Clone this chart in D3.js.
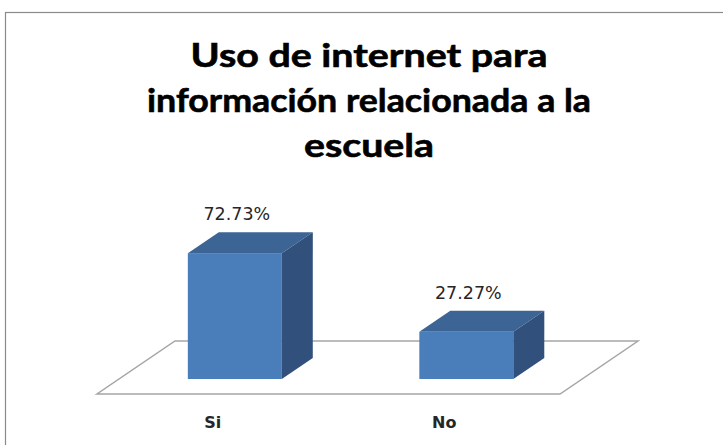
<!DOCTYPE html>
<html>
<head>
<meta charset="utf-8">
<script src="https://cdn.jsdelivr.net/npm/d3@7"></script>
<style>
  body { margin: 0; background: #fff; }
  svg { display: block; }
</style>
</head>
<body>
<div id="chart"></div>
<script>
// données du graphique
const titleLines = ["Uso de internet para", "información relacionada a la", "escuela"];
const categories = ["Si", "No"];
const values = [72.73, 27.27];
const valueLabels = ["72.73%", "27.27%"];

const width = 723, height = 445;

const svg = d3.select("#chart")
  .append("svg")
  .attr("width", width)
  .attr("height", height);

// cadre du graphique (coupé à droite et en bas)
svg.append("rect")
  .attr("x", 5.5)
  .attr("y", 12.5)
  .attr("width", 740)
  .attr("height", 460)
  .attr("fill", "#fff")
  .attr("stroke", "#8a8a8a")
  .attr("stroke-width", 1.2);

// titre sur trois lignes, étiré comme dans l'image
const titleWidths = [357, 444, 130];
svg.append("g")
  .selectAll("text")
  .data(titleLines)
  .enter()
  .append("text")
  .attr("x", 369)
  .attr("y", (d, i) => 67 + i * 45)
  .attr("text-anchor", "middle")
  .attr("font-family", "Lato, 'Open Sans', sans-serif")
  .attr("font-weight", "bold")
  .attr("font-size", 33)
  .attr("fill", "#000")
  .attr("stroke", "#000")
  .attr("stroke-width", 0.6)
  .attr("textLength", (d, i) => titleWidths[i])
  .attr("lengthAdjust", "spacingAndGlyphs")
  .text(d => d);

// plancher en perspective
const floorFront = 394;
const depth = { x: 78, y: -53 };
const x = d3.scaleBand()
  .domain(categories)
  .range([97, 560]);
const y = d3.scaleLinear()
  .domain([0, 80])
  .range([0, 138.4]);

const floorPts = [
  [x.range()[0], floorFront],
  [x.range()[1], floorFront],
  [x.range()[1] + depth.x, floorFront + depth.y],
  [x.range()[0] + depth.x, floorFront + depth.y]
];
svg.append("polygon")
  .attr("points", floorPts.map(p => p.join(",")).join(" "))
  .attr("fill", "#fff")
  .attr("stroke", "#a6a6a6")
  .attr("stroke-width", 1.5);

// barres 3D
const t0 = 0.283, t1 = 0.68;
const barW = x.bandwidth() * 0.406;
const ddx = (t1 - t0) * depth.x, ddy = (t1 - t0) * depth.y;

const bars = svg.append("g")
  .selectAll("g")
  .data(categories.map((c, i) => ({ cat: c, val: values[i], lab: valueLabels[i] })))
  .enter()
  .append("g");

function geom(d) {
  const cx = x(d.cat) + x.bandwidth() / 2;
  const x0 = cx - barW / 2 + t0 * depth.x;
  const yb = floorFront + t0 * depth.y;
  const h = y(d.val);
  return { x0, yb, h, yt: yb - h };
}

bars.append("rect")
  .attr("x", d => geom(d).x0)
  .attr("y", d => geom(d).yt)
  .attr("width", barW)
  .attr("height", d => geom(d).h)
  .attr("fill", "#4a7ebb");

bars.append("polygon")
  .attr("points", d => {
    const g = geom(d);
    return [[g.x0, g.yt], [g.x0 + ddx, g.yt + ddy], [g.x0 + barW + ddx, g.yt + ddy], [g.x0 + barW, g.yt]]
      .map(p => p.join(",")).join(" ");
  })
  .attr("fill", "#3c6494");

bars.append("polygon")
  .attr("points", d => {
    const g = geom(d);
    return [[g.x0 + barW, g.yt], [g.x0 + barW + ddx, g.yt + ddy], [g.x0 + barW + ddx, g.yb + ddy], [g.x0 + barW, g.yb]]
      .map(p => p.join(",")).join(" ");
  })
  .attr("fill", "#31517c");

// étiquettes de valeur
bars.append("text")
  .attr("x", d => geom(d).x0 + barW / 2 + 2)
  .attr("y", d => geom(d).yt + ddy - 12)
  .attr("text-anchor", "middle")
  .attr("font-family", "'DejaVu Sans', Verdana, sans-serif")
  .attr("font-size", 17.5)
  .attr("fill", "#262626")
  .text(d => d.lab);

// étiquettes des catégories
svg.append("g")
  .selectAll("text")
  .data(categories)
  .enter()
  .append("text")
  .attr("x", d => x(d) + x.bandwidth() / 2)
  .attr("y", floorFront + 34)
  .attr("text-anchor", "middle")
  .attr("font-family", "'DejaVu Sans', Verdana, sans-serif")
  .attr("font-weight", "bold")
  .attr("font-size", 16)
  .attr("fill", "#262626")
  .text(d => d);
</script>
</body>
</html>
